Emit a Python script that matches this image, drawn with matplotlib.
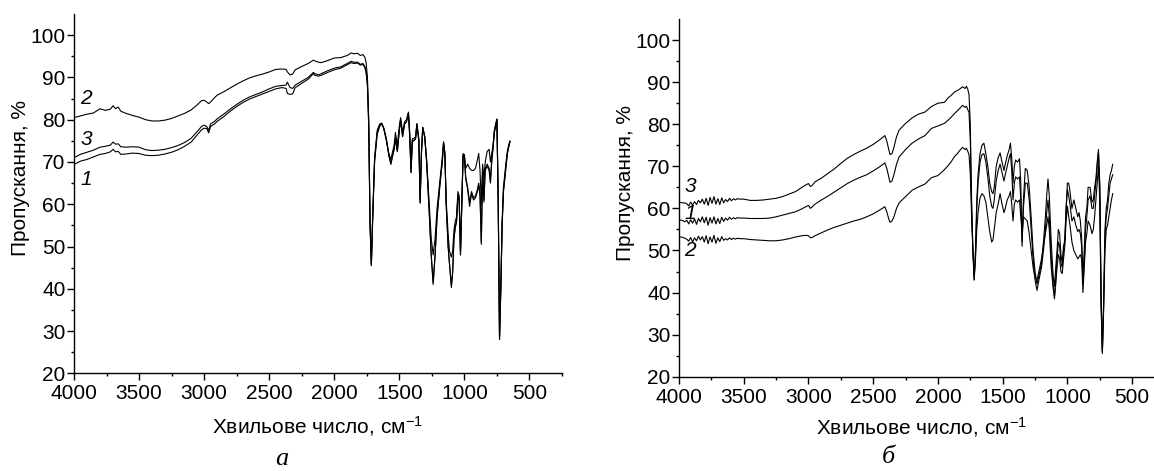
import matplotlib
matplotlib.use("Agg")
import matplotlib.pyplot as plt

plt.rcParams['font.family'] = ['Liberation Sans', 'DejaVu Sans']
plt.rcParams['mathtext.fontset'] = 'custom'
plt.rcParams['mathtext.rm'] = 'Liberation Sans'
plt.rcParams['mathtext.it'] = 'Liberation Sans:italic'

# ---------------- Panel a ----------------
wn_a = [4000, 3950, 3900, 3850, 3800, 3760, 3720, 3700, 3680, 3660, 3640, 3600, 3550, 3500, 3450,
        3400, 3350, 3300, 3250, 3200, 3150, 3100, 3050, 3020, 3000, 2980, 2965, 2950, 2920, 2900,
        2850, 2800, 2750, 2700, 2650, 2600, 2550, 2500, 2450, 2400, 2370, 2360, 2340, 2320, 2300,
        2250, 2200, 2160, 2150, 2120, 2100, 2050, 2000, 1950, 1900, 1870, 1850, 1820, 1800, 1780,
        1765, 1755, 1745, 1735,
        1725, 1715, 1705, 1690, 1670, 1650, 1635, 1620, 1600, 1580, 1565, 1555, 1540, 1530, 1515,
        1500, 1490, 1475, 1460, 1445, 1430, 1420, 1410, 1400, 1390, 1375, 1365, 1350, 1340, 1330,
        1320, 1305, 1290, 1270, 1255, 1240, 1225, 1210, 1190, 1170, 1160, 1150, 1140, 1125, 1115,
        1100, 1090, 1080, 1070, 1060, 1050, 1040, 1030, 1020, 1010, 1000, 990, 975, 960, 945,
        930, 915, 900, 890, 880, 870, 860, 850, 840, 825, 810, 800, 790, 780, 770,
        760, 750, 740, 730, 720, 710, 700, 690, 680, 670, 660, 650]

t_a2 = [80.5, 80.9, 81.3, 81.6, 82.6, 82.2, 82.5, 83.3, 82.6, 83.0, 82.0, 81.5, 81.0, 80.6, 80.0,
        79.7, 79.7, 79.9, 80.3, 80.9, 81.5, 82.3, 83.6, 84.5, 84.6, 84.2, 83.8, 84.2, 85.2, 85.8,
        86.6, 87.5, 88.4, 89.2, 89.9, 90.4, 90.8, 91.3, 91.9, 92.0, 91.9, 91.3, 90.6, 90.8, 91.8,
        92.6, 93.3, 94.1, 93.9, 93.6, 93.5, 94.0, 94.6, 94.7, 95.2, 95.8, 95.6, 95.7, 95.2, 95.4,
        94.8, 93.5, 90.0, 80.0,
        56.0, 45.5, 57.0, 71.0, 77.5, 79.0, 79.2, 78.0, 75.0, 72.0, 70.5, 72.0, 74.0, 77.0, 74.0,
        78.5, 80.5, 77.0, 79.5, 80.0, 81.8, 77.0, 68.5, 75.5, 75.5, 76.0, 79.0, 75.5, 61.0, 72.5,
        78.0, 76.0, 70.5, 60.0, 52.0, 48.0, 52.0, 59.0, 65.0, 71.0, 74.8, 72.0, 61.0, 53.0, 49.0,
        47.5, 49.0, 54.0, 56.0, 57.0, 63.0, 62.0, 49.0, 61.0, 72.0, 71.5, 66.5, 64.0, 60.5, 63.0,
        61.5, 62.0, 63.5, 65.0, 62.5, 51.0, 68.5, 61.0, 68.5, 69.5, 68.5, 65.5, 70.5, 73.5, 77.5,
        79.0, 80.2, 61.0, 28.5, 41.0, 56.0, 64.0, 67.0, 70.0, 72.5, 74.0, 75.0]

t_a3 = [71.0, 71.8, 72.3, 72.8, 73.5, 73.7, 74.0, 74.7, 74.2, 74.3, 73.6, 73.5, 73.6, 73.5, 72.9,
        72.7, 72.8, 73.0, 73.4, 73.9, 74.6, 75.6, 77.3, 78.4, 78.7, 78.4, 77.5, 79.0, 79.6, 80.2,
        81.3, 82.5, 83.6, 84.6, 85.4, 86.0, 86.6, 87.3, 87.9, 88.1, 88.2, 88.9, 87.6, 87.4, 88.2,
        89.1, 90.0, 91.2, 90.9, 90.6, 90.9, 91.6, 92.2, 92.5, 93.3, 93.8, 93.6, 93.6, 93.1, 93.3,
        92.6, 91.5, 88.5, 79.0,
        55.5, 45.8, 56.5, 70.5, 77.0, 78.8, 79.0, 78.0, 75.5, 71.5, 69.5, 71.0, 73.0, 75.5, 72.5,
        77.5, 80.0, 76.0, 79.0, 79.5, 81.5, 76.0, 67.5, 75.0, 75.0, 75.5, 79.0, 75.0, 60.3, 72.0,
        78.2, 76.0, 70.0, 58.0, 48.0, 41.5, 48.0, 57.0, 64.0, 70.0, 74.5, 72.0, 60.0, 50.0, 46.0,
        40.8, 44.0, 52.0, 54.5, 56.0, 62.0, 61.0, 48.0, 60.0, 71.5, 71.8, 68.5, 69.5, 68.5, 68.0,
        68.0, 68.5, 70.5, 72.0, 68.0, 60.0, 69.5, 66.0, 70.0, 72.5, 73.0, 70.0, 72.0, 74.0, 77.0,
        78.5, 80.0, 60.0, 28.0, 40.0, 55.0, 63.0, 66.0, 69.0, 72.0, 73.5, 74.8]

t_a1 = [69.4, 70.2, 70.6, 71.2, 71.8, 72.0, 72.4, 73.0, 72.4, 72.5, 71.8, 71.9, 72.1, 72.0, 71.6,
        71.5, 71.6, 71.9, 72.3, 72.9, 73.7, 74.7, 76.5, 77.6, 78.0, 77.9, 76.9, 78.4, 79.0, 79.6,
        80.7, 82.0, 83.1, 84.1, 84.9, 85.5, 86.1, 86.7, 87.3, 87.6, 87.4, 86.2, 86.0, 86.1, 87.6,
        88.6, 89.6, 90.9, 90.5, 90.3, 90.5, 91.2, 91.8, 92.2, 93.0, 93.5, 93.3, 93.4, 92.9, 93.1,
        92.3, 91.0, 88.0, 78.0,
        55.0, 45.5, 56.0, 70.0, 76.5, 78.5, 79.0, 78.0, 75.5, 71.5, 69.5, 71.0, 73.0, 75.5, 72.5,
        77.5, 80.0, 76.0, 79.0, 79.5, 81.5, 76.0, 67.5, 75.0, 75.0, 75.5, 79.0, 75.0, 60.3, 72.0,
        78.2, 76.0, 70.0, 58.0, 48.0, 41.0, 48.0, 57.0, 64.0, 70.0, 74.5, 72.0, 60.0, 50.0, 46.0,
        40.3, 44.0, 52.0, 54.5, 56.0, 62.0, 61.0, 48.0, 60.0, 71.5, 71.0, 66.0, 63.5, 59.5, 62.5,
        61.0, 61.5, 63.0, 64.5, 62.0, 50.5, 68.0, 60.5, 68.0, 69.0, 68.0, 65.0, 70.0, 73.0, 77.0,
        78.5, 80.0, 60.0, 28.0, 40.0, 55.0, 63.0, 66.0, 69.0, 72.0, 73.5, 74.8]

# ---------------- Panel б ----------------
wn_b = [4000, 3985, 3970, 3955, 3940, 3925, 3910, 3895, 3880, 3865, 3850, 3835, 3820, 3805, 3790,
        3775, 3760, 3745, 3730, 3715, 3700, 3685, 3670, 3655, 3640, 3625, 3610, 3595, 3580, 3565,
        3550, 3530,
        3500, 3450, 3400, 3350, 3300, 3250, 3200, 3150,
        3100, 3050, 3020, 3000, 2985, 2970, 2950, 2900, 2850, 2800, 2750, 2700, 2650, 2600, 2550,
        2500, 2450, 2410, 2395, 2380, 2370, 2355, 2340, 2320, 2300, 2250, 2200, 2150, 2100, 2050,
        2000, 1950, 1920, 1900, 1870, 1850, 1830, 1810, 1790, 1780, 1770, 1760, 1750, 1740,
        1730, 1720, 1710, 1700, 1690, 1675, 1660, 1645, 1630, 1615, 1600, 1585, 1575, 1565, 1550,
        1535, 1520, 1505, 1490, 1480, 1465, 1450, 1440, 1430, 1420, 1410, 1400, 1385, 1370, 1360,
        1350, 1340, 1325, 1310, 1295, 1280, 1265, 1250, 1235, 1220, 1200, 1185, 1170, 1160, 1150,
        1140, 1125, 1110, 1100, 1090, 1080, 1070, 1060, 1050, 1040, 1030, 1020, 1010, 1000, 990,
        980, 965, 950, 935, 920, 910, 900, 890, 880, 870, 860, 850, 840, 825, 810,
        800, 790, 780, 770, 760, 750, 740, 730, 720, 710, 700, 690, 680, 670, 660, 650]

t_b3 = [61.4, 61.4, 61.3, 61.3, 61.1, 60.6, 61.5, 60.8, 61.6, 60.9, 61.9, 61.3, 62.2, 61.0, 62.4,
        60.7, 62.6, 61.2, 62.8, 61.0, 62.3, 60.9, 62.5, 61.3, 62.1, 61.6, 62.4, 61.8, 62.3, 62.0,
        62.3, 62.2,
        62.2, 61.9, 61.9, 62.0, 62.2, 62.4, 62.8, 63.4,
        64.0, 65.0, 65.6, 65.9, 65.2, 65.5, 66.3, 67.2, 68.3, 69.4, 70.7, 71.9, 72.8, 73.6, 74.3,
        75.2, 76.3, 77.3, 76.0, 74.0, 72.8, 73.0, 74.5, 77.0, 78.6, 80.2, 81.5, 82.4, 82.9, 84.2,
        85.0, 85.2, 86.3, 86.8, 87.7, 88.0, 88.4, 88.9, 88.5, 89.0, 88.4, 87.0, 80.0, 62.0,
        50.0, 43.0, 50.0, 62.0, 68.0, 73.0, 75.0, 75.5, 73.0, 70.0, 66.0, 64.0, 63.5, 65.0, 70.0,
        72.0, 73.2, 71.0, 69.0, 70.5, 72.5, 74.0, 75.5, 72.0, 66.0, 70.0, 71.5, 71.0, 71.8, 66.0,
        51.0, 62.0, 69.5, 69.0, 65.0, 58.0, 50.0, 45.0, 42.0, 44.0, 47.0, 52.0, 58.0, 63.0, 67.0,
        63.0, 52.0, 44.0, 41.5, 46.0, 50.0, 55.0, 54.0, 49.0, 47.0, 51.0, 52.0, 60.0, 66.0, 66.0,
        64.0, 60.0, 62.0, 60.0, 58.0, 59.0, 57.0, 53.0, 44.0, 50.0, 58.0, 60.0, 65.0, 65.0, 61.5,
        62.0, 65.0, 67.0, 71.0, 74.0, 66.0, 40.0, 26.0, 38.0, 55.0, 60.0, 62.0, 66.0, 68.0, 69.0, 70.5]

t_b1 = [57.3, 57.2, 57.1, 56.8, 57.2, 56.3, 57.3, 56.5, 57.5, 56.2, 57.6, 56.8, 58.0, 56.6, 57.9,
        56.0, 57.8, 56.5, 58.0, 56.3, 57.6, 56.4, 57.9, 56.9, 57.7, 57.2, 57.9, 57.4, 57.8, 57.5,
        57.8, 57.7,
        57.7, 57.6, 57.6, 57.6, 57.7, 58.0, 58.4, 58.8,
        59.2, 59.9, 60.4, 60.7, 60.0, 60.4, 61.0, 62.0, 62.9, 63.9, 64.9, 65.9, 66.7, 67.4, 68.0,
        68.9, 69.9, 70.8, 69.5, 67.5, 66.2, 66.5, 68.0, 70.5, 72.2, 74.0, 75.5, 76.5, 77.3, 79.0,
        79.6, 80.2, 81.0, 81.6, 82.6, 83.2, 83.8, 84.5, 84.0, 84.3, 83.5, 82.8, 76.0, 60.0,
        50.0, 43.0, 49.0, 60.0, 66.0, 71.0, 72.8, 73.0, 71.0, 67.5, 63.0, 60.5, 60.0, 62.0, 66.5,
        69.0, 70.5, 68.5, 66.5, 68.0, 70.0, 72.0, 73.0, 69.0, 62.0, 66.0, 67.5, 67.0, 67.5, 62.0,
        52.0, 60.0, 66.0, 66.0, 62.0, 55.0, 48.0, 43.0, 40.5, 43.0, 46.0, 50.0, 55.0, 59.0, 62.0,
        58.0, 48.0, 42.0, 38.5, 43.0, 48.0, 52.0, 51.0, 47.0, 46.0, 50.0, 53.0, 60.0, 64.5, 63.0,
        61.0, 57.0, 58.0, 56.0, 54.5, 55.0, 54.0, 51.0, 42.0, 47.0, 55.0, 58.0, 62.0, 63.0, 60.0,
        60.0, 63.0, 66.0, 70.0, 73.0, 65.0, 38.0, 25.5, 37.0, 53.0, 58.0, 60.0, 63.0, 66.0, 67.0, 68.0]

t_b2 = [53.2, 53.2, 53.1, 52.9, 52.7, 52.2, 53.1, 52.0, 53.0, 52.3, 53.4, 52.5, 53.3, 52.0, 53.5,
        51.6, 53.2, 52.0, 53.6, 51.7, 53.0, 52.1, 53.3, 52.4, 52.8, 52.5, 53.0, 52.6, 52.9, 52.7,
        52.9, 52.8,
        52.8, 52.6, 52.5, 52.4, 52.3, 52.3, 52.5, 52.8,
        53.2, 53.5, 53.6, 53.5, 53.0, 53.1, 53.5, 54.2, 54.9, 55.5, 56.0, 56.5, 57.0, 57.4, 58.0,
        58.7, 59.6, 60.4, 59.2, 57.5, 56.7, 57.0, 58.0, 60.0, 61.3, 62.8, 64.3, 65.1, 65.8, 67.3,
        67.8, 69.2, 70.2, 71.0, 72.4, 73.0, 73.8, 74.5, 74.0, 74.3, 73.6, 72.8, 68.0, 58.0,
        50.0, 44.0, 48.0, 55.0, 59.0, 62.5, 63.5, 63.0, 61.5, 58.0, 54.5, 52.0, 52.5, 55.0, 59.0,
        61.0, 63.5, 61.0, 59.0, 60.0, 62.0, 63.0, 64.0, 61.0, 57.0, 61.0, 62.0, 61.5, 62.0, 58.0,
        54.0, 58.0, 57.5, 57.0, 54.0, 50.0, 46.0, 43.5, 43.0, 45.0, 48.0, 51.0, 54.0, 56.0, 58.0,
        55.0, 46.0, 41.0, 39.0, 42.0, 46.0, 49.0, 48.0, 45.0, 44.5, 48.0, 51.0, 57.0, 60.5, 58.0,
        56.0, 52.0, 50.0, 49.0, 48.0, 48.5, 49.0, 48.0, 40.0, 46.0, 52.0, 54.0, 57.0, 56.0, 54.0,
        55.0, 58.0, 62.0, 66.0, 70.0, 62.0, 37.0, 26.0, 36.0, 50.0, 55.0, 56.0, 58.0, 60.0, 62.0, 63.5]

# curve label positions (wavenumber, transmittance)
labels_a = [("2", 3905, 84.9), ("3", 3905, 75.3), ("1", 3905, 65.8)]
labels_b = [("3", 3910, 65.2), ("1", 3915, 58.7), ("2", 3915, 49.9)]

xticks = [4000, 3500, 3000, 2500, 2000, 1500, 1000, 500]
yticks = [20, 30, 40, 50, 60, 70, 80, 90, 100]

FS = 15
fig = plt.figure(figsize=(11.54, 4.71), dpi=100)
ax_a = fig.add_axes([0.0641, 0.2074, 0.4229, 0.7628])
ax_b = fig.add_axes([0.5884, 0.2002, 0.4207, 0.7594])


def style(ax, lab_x, lab_y, xl_y):
    ax.set_xlim(4000, 250)
    ax.set_ylim(20, 105)
    ax.set_xticks(xticks)
    ax.set_xticks(list(range(3750, 249, -500)), minor=True)
    ax.set_yticks(yticks)
    ax.set_yticks(list(range(25, 105, 10)), minor=True)
    for s in ("top", "right"):
        ax.spines[s].set_visible(False)
    for s in ("left", "bottom"):
        ax.spines[s].set_linewidth(1.0)
    ax.tick_params(axis='both', which='major', direction='out', length=5, width=1.0,
                   labelsize=FS, pad=1)
    ax.tick_params(axis='both', which='minor', direction='out', length=2.5, width=1.0)
    ax.tick_params(axis='x', which='major', pad=3)
    ax.set_ylabel("Пропускання, %", fontsize=FS)
    ax.set_xlabel("Хвильове число, см$^{-1}$", fontsize=FS)
    ax.yaxis.label.set_va('center')
    ax.xaxis.label.set_va('center')
    ax.yaxis.set_label_coords(lab_x, lab_y)
    ax.xaxis.set_label_coords(0.5, xl_y)


for t in (t_a2, t_a3, t_a1):
    ax_a.plot(wn_a, t, color='black', lw=0.8)
for t in (t_b3, t_b1, t_b2):
    ax_b.plot(wn_b, t, color='black', lw=0.8)

style(ax_a, -0.109, 0.543, -0.146)
style(ax_b, -0.111, 0.541, -0.141)

for txt, x, y in labels_a:
    ax_a.text(x, y, txt, fontsize=FS, style='italic', ha='center', va='center')
for txt, x, y in labels_b:
    ax_b.text(x, y, txt, fontsize=FS, style='italic', ha='center', va='center')

fig.text(282 / 1154, 1 - 459 / 471, "а", family=['Liberation Serif', 'DejaVu Serif'],
         style='italic', fontsize=19, ha='center', va='center')
fig.text(888 / 1154, 1 - 457 / 471, "б", family=['Liberation Serif', 'DejaVu Serif'],
         style='italic', fontsize=19, ha='center', va='center')

fig.savefig("out.png", dpi=100)
